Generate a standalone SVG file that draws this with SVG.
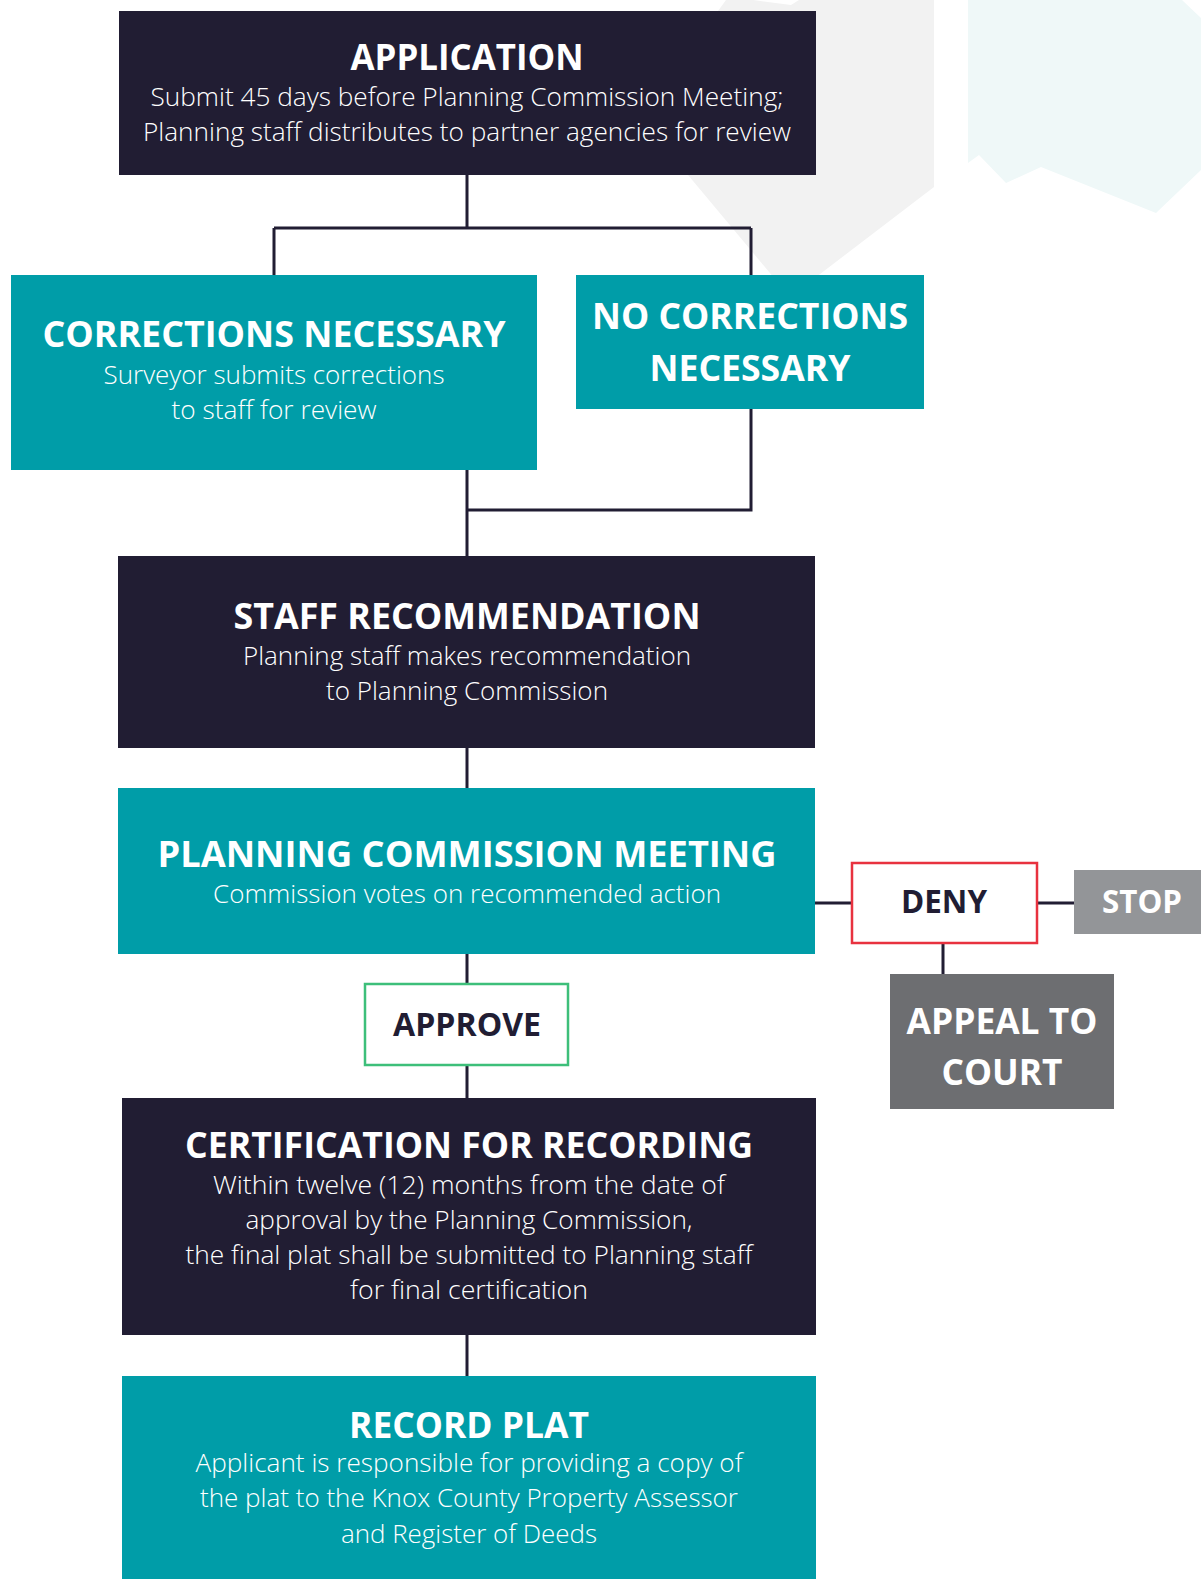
<svg xmlns="http://www.w3.org/2000/svg" width="1201" height="1579" viewBox="0 0 1201 1579">
<style>
.dark{fill:#211d33}
.teal{fill:#009da8}
.t{font-family:"Open Sans","Liberation Sans",sans-serif;font-weight:700;fill:#ffffff;text-anchor:middle}
.s{font-family:"Open Sans","Liberation Sans",sans-serif;font-weight:300;fill:#ffffff;text-anchor:middle;font-size:25.5px}
.ts{font-size:36px}
.tm{font-size:32.5px}
.conn{fill:none;stroke:#211d33;stroke-width:3}
</style>
<g id="background">
<polygon points="726,0 753,0 791,5 799,0 934,0 934,187 790,297 688,175 640,118" fill="#f2f2f2"/>
<polygon points="968,0 1182,0 1201,18 1201,170 1156,213 1041,167 1006,183 979,155 968,163" fill="#eff8f8"/>
</g>
<g id="connectors">
<path class="conn" d="M467,175 V228 M274,228 H751 M274,228 V275 M751,228 V275"/>
<path class="conn" d="M467,470 V556 M751,409 V510 H467"/>
<path class="conn" d="M467,748 V788"/>
<path class="conn" d="M467,954 V984 M467,1065 V1098"/>
<path class="conn" d="M467,1335 V1376"/>
<path class="conn" d="M815,903 H852 M1037,903 H1074 M943,943 V974"/>
</g>
<g id="application">
<rect class="dark" x="119" y="11" width="697" height="164"/>
<text class="t ts" x="467" y="70" textLength="233" lengthAdjust="spacingAndGlyphs">APPLICATION</text>
<text class="s" x="467" y="106" textLength="633" lengthAdjust="spacingAndGlyphs">Submit 45 days before Planning Commission Meeting;</text>
<text class="s" x="467" y="141" textLength="648" lengthAdjust="spacingAndGlyphs">Planning staff distributes to partner agencies for review</text>
</g>
<g id="corrections-necessary">
<rect class="teal" x="11" y="275" width="526" height="195"/>
<text class="t ts" x="274" y="347" textLength="463" lengthAdjust="spacingAndGlyphs">CORRECTIONS NECESSARY</text>
<text class="s" x="274" y="384" textLength="341" lengthAdjust="spacingAndGlyphs">Surveyor submits corrections</text>
<text class="s" x="274" y="419" textLength="205" lengthAdjust="spacingAndGlyphs">to staff for review</text>
</g>
<g id="no-corrections-necessary">
<rect class="teal" x="576" y="275" width="348" height="134"/>
<text class="t ts" x="750" y="329" textLength="316" lengthAdjust="spacingAndGlyphs">NO CORRECTIONS</text>
<text class="t ts" x="750" y="381" textLength="201" lengthAdjust="spacingAndGlyphs">NECESSARY</text>
</g>
<g id="staff-recommendation">
<rect class="dark" x="118" y="556" width="697" height="192"/>
<text class="t ts" x="467" y="629" textLength="467" lengthAdjust="spacingAndGlyphs">STAFF RECOMMENDATION</text>
<text class="s" x="467" y="665" textLength="448" lengthAdjust="spacingAndGlyphs">Planning staff makes recommendation</text>
<text class="s" x="467" y="700" textLength="282" lengthAdjust="spacingAndGlyphs">to Planning Commission</text>
</g>
<g id="planning-commission-meeting">
<rect class="teal" x="118" y="788" width="697" height="166"/>
<text class="t ts" x="467" y="867" textLength="619" lengthAdjust="spacingAndGlyphs">PLANNING COMMISSION MEETING</text>
<text class="s" x="467" y="903" textLength="508" lengthAdjust="spacingAndGlyphs">Commission votes on recommended action</text>
</g>
<g id="approve">
<rect x="365" y="984" width="203" height="81" fill="#ffffff" stroke="#3dbf7a" stroke-width="2.5"/>
<text class="t tm" x="467" y="1036" style="fill:#211d33" textLength="148" lengthAdjust="spacingAndGlyphs">APPROVE</text>
</g>
<g id="deny">
<rect x="852" y="863" width="185" height="80" fill="#ffffff" stroke="#e8323f" stroke-width="2.5"/>
<text class="t tm" x="944" y="913" style="fill:#211d33" textLength="86" lengthAdjust="spacingAndGlyphs">DENY</text>
</g>
<g id="stop">
<rect x="1074" y="870" width="127" height="64" fill="#939598"/>
<text class="t tm" x="1142" y="913" textLength="80" lengthAdjust="spacingAndGlyphs">STOP</text>
</g>
<g id="appeal-to-court">
<rect x="890" y="974" width="224" height="135" fill="#6d6e71"/>
<text class="t ts" x="1002" y="1034" textLength="191" lengthAdjust="spacingAndGlyphs">APPEAL TO</text>
<text class="t ts" x="1002" y="1085" textLength="121" lengthAdjust="spacingAndGlyphs">COURT</text>
</g>
<g id="certification-for-recording">
<rect class="dark" x="122" y="1098" width="694" height="237"/>
<text class="t ts" x="469" y="1158" textLength="568" lengthAdjust="spacingAndGlyphs">CERTIFICATION FOR RECORDING</text>
<text class="s" x="469" y="1194" textLength="512" lengthAdjust="spacingAndGlyphs">Within twelve (12) months from the date of</text>
<text class="s" x="469" y="1229" textLength="447" lengthAdjust="spacingAndGlyphs">approval by the Planning Commission,</text>
<text class="s" x="469" y="1264" textLength="567" lengthAdjust="spacingAndGlyphs">the final plat shall be submitted to Planning staff</text>
<text class="s" x="469" y="1299" textLength="238" lengthAdjust="spacingAndGlyphs">for final certification</text>
</g>
<g id="record-plat">
<rect class="teal" x="122" y="1376" width="694" height="203"/>
<text class="t ts" x="469" y="1438" textLength="240" lengthAdjust="spacingAndGlyphs">RECORD PLAT</text>
<text class="s" x="469" y="1472" textLength="547" lengthAdjust="spacingAndGlyphs">Applicant is responsible for providing a copy of</text>
<text class="s" x="469" y="1507" textLength="538" lengthAdjust="spacingAndGlyphs">the plat to the Knox County Property Assessor</text>
<text class="s" x="469" y="1543" textLength="256" lengthAdjust="spacingAndGlyphs">and Register of Deeds</text>
</g>
</svg>
